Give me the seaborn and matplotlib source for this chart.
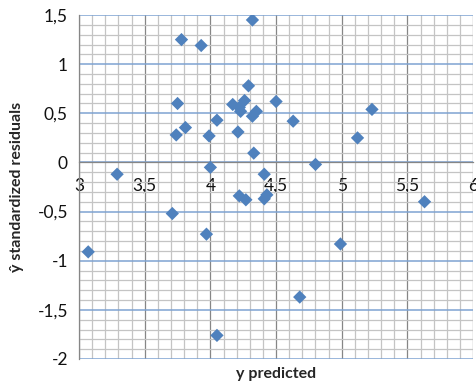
import numpy as np
import pandas as pd
import seaborn as sns
import matplotlib.pyplot as plt
from matplotlib.ticker import FuncFormatter, MultipleLocator

# values
y_predicted = [3.07, 3.29, 3.71, 3.97, 4.05, 3.78, 3.93, 3.75, 3.74, 3.81,
               3.99, 4.05, 4.00, 4.21, 4.17, 4.22, 4.26, 4.23, 4.29, 4.35,
               4.32, 4.50, 4.63, 4.32, 4.33, 4.80, 4.41, 5.12, 5.23, 4.22,
               4.27, 4.41, 4.43, 5.63, 4.99, 4.68]
std_residuals = [-0.91, -0.12, -0.52, -0.73, -1.76, 1.25, 1.19, 0.60, 0.28, 0.355,
                 0.27, 0.43, -0.05, 0.31, 0.59, 0.56, 0.63, 0.52, 0.78, 0.52,
                 0.47, 0.62, 0.42, 1.45, 0.095, -0.02, -0.12, 0.25, 0.54, -0.34,
                 -0.38, -0.37, -0.33, -0.40, -0.83, -1.37]

df = pd.DataFrame({'y predicted': y_predicted, 'residuals': std_residuals})

sns.set_style('white')
plt.rcParams['font.family'] = ['Lato', 'DejaVu Sans']

fig = plt.figure(figsize=(4.76, 3.86), dpi=100)
ax = fig.add_axes([0.166, 0.070, 0.828, 0.891])

sns.scatterplot(data=df, x='y predicted', y='residuals', marker='D', s=46,
                color='#4F81BD', edgecolor='none', ax=ax, zorder=3)

ax.set_xlim(3, 6)
ax.set_ylim(-2, 1.5)
ax.xaxis.set_major_locator(MultipleLocator(0.5))
ax.yaxis.set_major_locator(MultipleLocator(0.5))
ax.xaxis.set_minor_locator(MultipleLocator(0.1))
ax.yaxis.set_minor_locator(MultipleLocator(0.1))

comma = FuncFormatter(lambda v, pos: f'{v:g}'.replace('.', ','))
ax.xaxis.set_major_formatter(comma)
ax.yaxis.set_major_formatter(comma)

# excel-like grid
ax.set_axisbelow(True)
ax.grid(which='minor', color='#C4C4C4', lw=0.9)
ax.xaxis.grid(which='major', color='#868686', lw=0.9)
ax.yaxis.grid(which='major', color='#7EA3D2', lw=1.1)

for side in ['top', 'right']:
    ax.spines[side].set_visible(False)
ax.spines['left'].set_color('#868686')
ax.spines['bottom'].set_color('#868686')
ax.spines['bottom'].set_position(('data', 0))
ax.spines['left'].set_linewidth(0.9)
ax.spines['bottom'].set_linewidth(0.9)

ax.tick_params(which='minor', length=0)
ax.tick_params(axis='x', which='major', length=3, color='#868686', pad=8,
               labelsize=12.5, labelcolor='#111111')
ax.tick_params(axis='y', which='major', length=3, color='#868686', pad=5,
               labelsize=12.5, labelcolor='#111111')

ax.set_xlabel('')
ax.set_ylabel('')
fig.text(0.5 * (0.166 + 0.994), 0.031, 'y predicted', ha='center', va='center',
         fontsize=11.5, fontweight='bold')
fig.text(0.036, 0.5 * (0.070 + 0.961), 'ŷ standardized residuals', ha='center',
         va='center', rotation=90, fontsize=11.5, fontweight='bold')

fig.savefig('out.png', dpi=100)
